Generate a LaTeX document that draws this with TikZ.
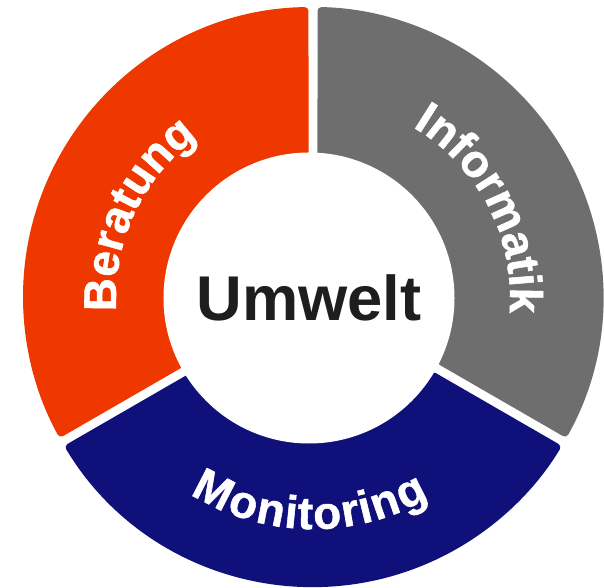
\documentclass[tikz,border=0pt]{standalone}
\usepackage{fontspec}
\setmainfont{Liberation Sans}
\usetikzlibrary{decorations.text}
\definecolor{beratungorange}{RGB}{238,56,0}
\definecolor{informatikgray}{RGB}{110,110,110}
\definecolor{monitoringnavy}{RGB}{16,16,122}
\definecolor{hubtext}{RGB}{30,30,30}
\newcommand{\segfont}{\fontsize{39}{45}\selectfont\bfseries\addfontfeature{FakeBold=1.2}}

\begin{document}
\begin{tikzpicture}[
    x=0.03cm, y=0.03cm,
    segment/.style={rounded corners=3.4pt},
    hub/.style={circle, fill=white, inner sep=0pt, minimum size=8.73cm, text=hubtext, font=\fontsize{54}{60}\selectfont\bfseries},
    seglabel/.style={decorate, decoration={text along path, text align=center, text color=white, text={|\segfont|#1}}}
]

\useasboundingbox (0,0) rectangle (604,588);
\coordinate (C) at (313,291);

% Ring segments
\fill[segment, beratungorange] ([shift={(90.89:290)}]C) arc[start angle=90.89, end angle=209.11, radius=290]
    -- ([shift={(208.16:140)}]C) arc[start angle=208.16, end angle=91.84, radius=140] -- cycle;
\fill[segment, monitoringnavy] ([shift={(210.89:290)}]C) arc[start angle=210.89, end angle=329.11, radius=290]
    -- ([shift={(328.16:140)}]C) arc[start angle=328.16, end angle=211.84, radius=140] -- cycle;
\fill[segment, informatikgray] ([shift={(-29.11:290)}]C) arc[start angle=-29.11, end angle=89.11, radius=290]
    -- ([shift={(88.16:140)}]C) arc[start angle=88.16, end angle=-28.16, radius=140] -- cycle;

% Central hub
\node[hub] (umwelt) at (309,290) {Umwelt};

% Segment labels
\path[seglabel=Beratung] ([shift={(205:197)}]C) arc[start angle=205, end angle=105, radius=197];
\path[seglabel=Informatik] ([shift={(77.5:197)}]C) arc[start angle=77.5, end angle=-22.5, radius=197];
\path[seglabel=Monitoring, decoration={raise=-13.7pt}] ([shift={(218:216)}]C) arc[start angle=218, end angle=320, radius=216];

\end{tikzpicture}
\end{document}
